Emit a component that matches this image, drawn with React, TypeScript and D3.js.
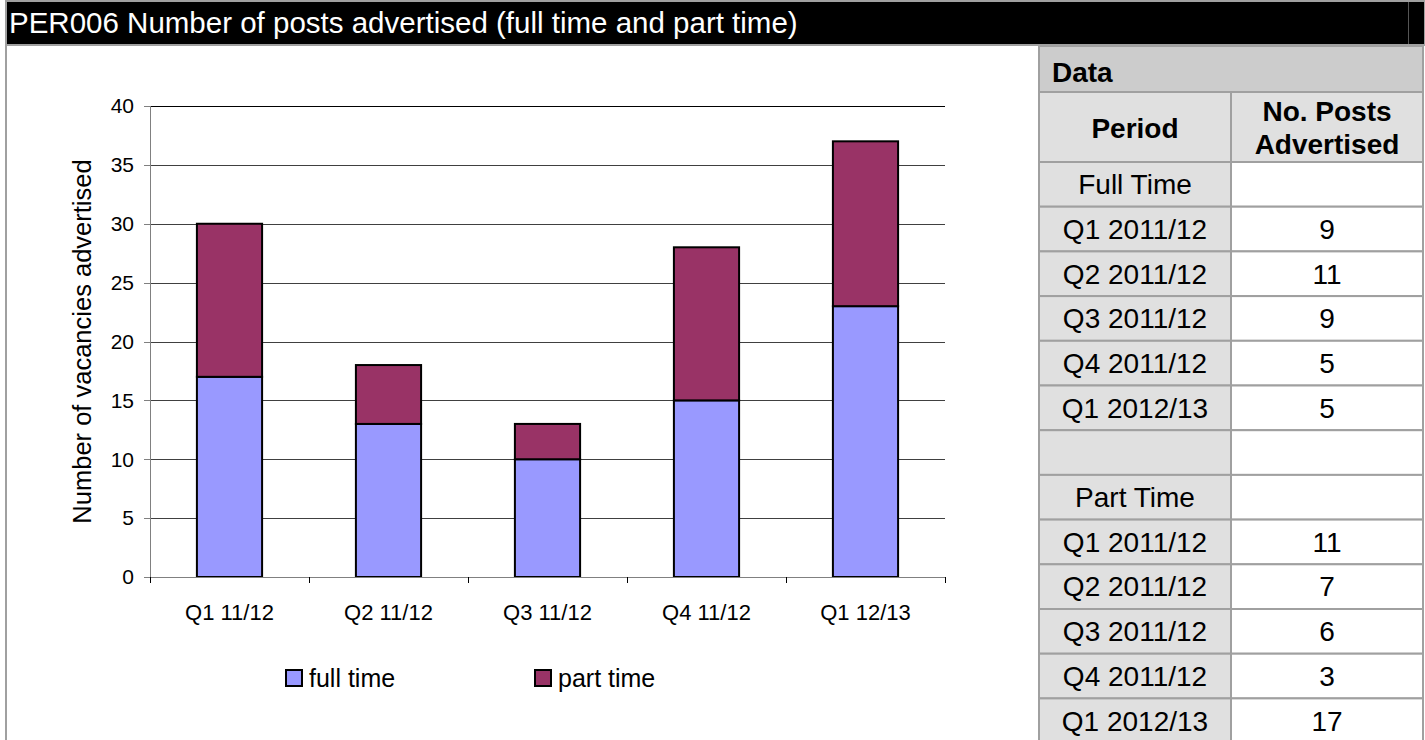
import React from "react";
import * as d3 from "d3";

const categories = ["Q1 11/12", "Q2 11/12", "Q3 11/12", "Q4 11/12", "Q1 12/13"];
const fullTime = [17, 13, 10, 15, 23];
const partTime = [13, 5, 3, 13, 14];
const yTicks = [0, 5, 10, 15, 20, 25, 30, 35, 40];
const seriesNames = ["full time", "part time"];
const seriesColors = ["#9999FF", "#993366"];

const tablePeriods = ["Full Time", "Q1 2011/12", "Q2 2011/12", "Q3 2011/12", "Q4 2011/12", "Q1 2012/13", "", "Part Time", "Q1 2011/12", "Q2 2011/12", "Q3 2011/12", "Q4 2011/12", "Q1 2012/13"];
const tableValues = ["", "9", "11", "9", "5", "5", "", "", "11", "7", "6", "3", "17"];

const FONT = "'Liberation Sans', Arial, Helvetica, sans-serif";

export default function App() {
  const W = 1425, H = 740;
  const plot = { left: 150, right: 945, top: 106, bottom: 577 };
  const x = d3.scaleBand<string>().domain(categories).range([plot.left, plot.right]).paddingInner(0.59).paddingOuter(0.295);
  const y = d3.scaleLinear().domain([0, 40]).range([plot.bottom, plot.top]);
  const stacked = categories.map((c, i) => ({ c, f: fullTime[i], p: partTime[i] }));
  const boundaries = d3.range(categories.length + 1).map((i) => plot.left + (i * (plot.right - plot.left)) / categories.length);

  const tLeft = 1039, tMid = 1231, tRight = 1423;
  const rowTop0 = 162, rowH = 44.7;

  return (
    <svg width={W} height={H} style={{ position: "fixed", left: 0, top: 0, background: "#fff" }} fontFamily={FONT}>
      <rect x={6} y={1} width={W - 6} height={44} fill="#000" stroke="#a0a0a0" strokeWidth={2} />
      <line x1={1408.5} x2={1408.5} y1={2} y2={44} stroke="#555" strokeWidth={1} />
      <text x={9} y={33} fill="#fff" fontSize={29.5}>PER006 Number of posts advertised (full time and part time)</text>
      <line x1={6} x2={6} y1={45} y2={H} stroke="#a0a0a0" strokeWidth={2} />

      {yTicks.filter((t) => t > 0).map((t) => (
        <line key={t} x1={plot.left} x2={plot.right} y1={Math.round(y(t)) + 0.5} y2={Math.round(y(t)) + 0.5} stroke={t === 40 ? "#000" : "#404040"} strokeWidth={1} />
      ))}
      <line x1={plot.left + 0.5} x2={plot.left + 0.5} y1={plot.top} y2={plot.bottom} stroke="#808080" strokeWidth={1} />
      {yTicks.map((t) => (
        <g key={t}>
          <line x1={plot.left - 6} x2={plot.left} y1={Math.round(y(t)) + 0.5} y2={Math.round(y(t)) + 0.5} stroke="#808080" />
          <text x={plot.left - 16} y={y(t)} dy="0.35em" textAnchor="end" fontSize={21}>{t}</text>
        </g>
      ))}
      <text transform={`translate(${82},${(plot.top + plot.bottom) / 2}) rotate(-90)`} textAnchor="middle" dy="0.35em" fontSize={25.5}>Number of vacancies advertised</text>

      {stacked.map((d) => (
        <g key={d.c}>
          <rect x={x(d.c)} y={y(d.f)} width={x.bandwidth()} height={y(0) - y(d.f)} fill={seriesColors[0]} stroke="#000" strokeWidth={2} />
          <rect x={x(d.c)} y={y(d.f + d.p)} width={x.bandwidth()} height={y(d.f) - y(d.f + d.p)} fill={seriesColors[1]} stroke="#000" strokeWidth={2} />
        </g>
      ))}

      <line x1={plot.left} x2={plot.right} y1={plot.bottom + 0.5} y2={plot.bottom + 0.5} stroke="#808080" strokeWidth={1} />
      {boundaries.map((b, i) => (
        <line key={i} x1={Math.round(b) + 0.5} x2={Math.round(b) + 0.5} y1={plot.bottom} y2={plot.bottom + 6} stroke="#000" />
      ))}
      {categories.map((c) => (
        <text key={c} x={(x(c) as number) + x.bandwidth() / 2} y={612} dy="0.35em" textAnchor="middle" fontSize={22}>{c}</text>
      ))}

      {seriesNames.map((s, i) => {
        const lx = [286, 535][i];
        return (
          <g key={s}>
            <rect x={lx} y={670} width={16} height={16} fill={seriesColors[i]} stroke="#000" strokeWidth={2} />
            <text x={lx + 23} y={678.5} dy="0.35em" fontSize={25}>{s}</text>
          </g>
        );
      })}

      <rect x={tLeft} y={46} width={tRight - tLeft} height={46} fill="#cccccc" stroke="#a0a0a0" strokeWidth={2} />
      <text x={1052} y={72} dy="0.35em" fontSize={28} fontWeight="bold">Data</text>
      <rect x={tLeft} y={92} width={tMid - tLeft} height={rowTop0 - 92} fill="#e0e0e0" stroke="#a0a0a0" strokeWidth={2} />
      <rect x={tMid} y={92} width={tRight - tMid} height={rowTop0 - 92} fill="#e0e0e0" stroke="#a0a0a0" strokeWidth={2} />
      <text x={(tLeft + tMid) / 2} y={128} dy="0.35em" textAnchor="middle" fontSize={28} fontWeight="bold">Period</text>
      <text x={(tMid + tRight) / 2} y={111} dy="0.35em" textAnchor="middle" fontSize={28} fontWeight="bold">No. Posts</text>
      <text x={(tMid + tRight) / 2} y={144} dy="0.35em" textAnchor="middle" fontSize={28} fontWeight="bold">Advertised</text>
      {tablePeriods.map((p, i) => {
        const ry = rowTop0 + i * rowH;
        return (
          <g key={i}>
            <rect x={tLeft} y={ry} width={tMid - tLeft} height={rowH} fill="#e0e0e0" stroke="#a0a0a0" strokeWidth={2} />
            <rect x={tMid} y={ry} width={tRight - tMid} height={rowH} fill="#fff" stroke="#a0a0a0" strokeWidth={2} />
            <text x={(tLeft + tMid) / 2} y={ry + rowH / 2} dy="0.35em" textAnchor="middle" fontSize={28}>{p}</text>
            <text x={(tMid + tRight) / 2} y={ry + rowH / 2} dy="0.35em" textAnchor="middle" fontSize={28}>{tableValues[i]}</text>
          </g>
        );
      })}
    </svg>
  );
}
